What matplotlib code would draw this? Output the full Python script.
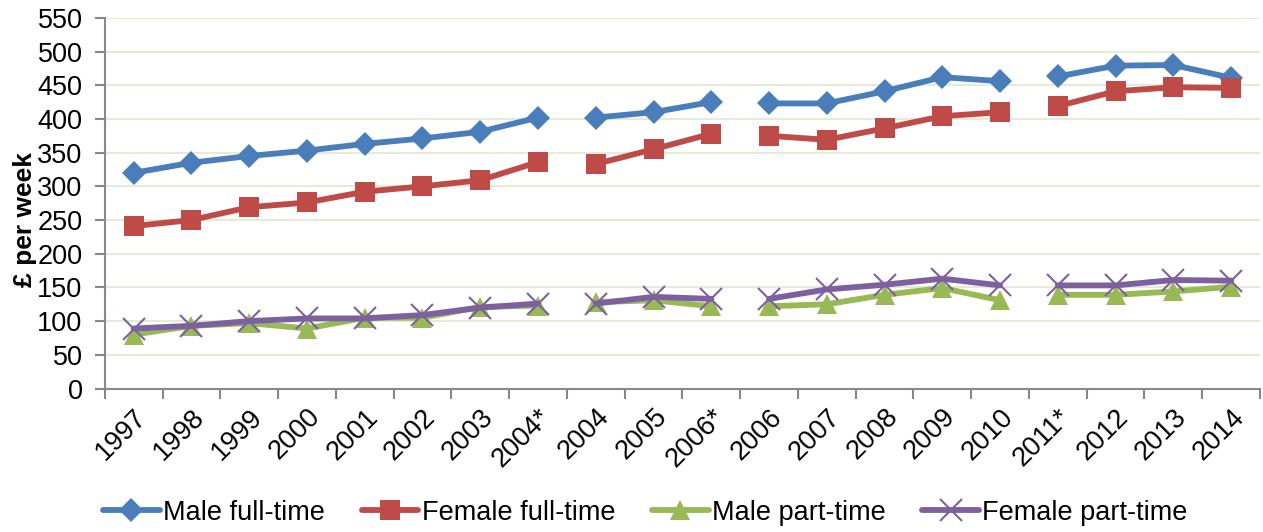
import matplotlib
matplotlib.use("Agg")
import matplotlib.pyplot as plt
import numpy as np

categories = ['1997', '1998', '1999', '2000', '2001', '2002', '2003', '2004*', '2004',
              '2005', '2006*', '2006', '2007', '2008', '2009', '2010', '2011*', '2012',
              '2013', '2014']
male_ft = [320, 335, 345, 353, 363, 371, 381, 402, 402, 410, 425, 423, 423, 441, 462,
           456, 463, 479, 480, 461]
female_ft = [241, 250, 269, 276, 292, 300, 309, 336, 333, 355, 378, 375, 369, 386, 404,
             410, 419, 441, 447, 446]
male_pt = [80, 93, 97, 89, 105, 105, 121, 123, 128, 131, 122, 122, 125, 139, 149, 131,
           139, 139, 144, 151]
female_pt = [89, 93, 100, 104, 104, 109, 120, 126, 126, 136, 133, 133, 147, 154, 163,
             153, 153, 153, 161, 160]
# series breaks (start, end) index ranges
segments = [(0, 8), (8, 11), (11, 16), (16, 20)]
series_names = ['Male full-time', 'Female full-time', 'Male part-time', 'Female part-time']

plt.rcParams['font.family'] = ['Liberation Sans', 'DejaVu Sans']

fig = plt.figure(figsize=(12.63, 5.32), dpi=100)
ax = fig.add_axes([0.083, 0.2697, 0.9146, 0.6968])

x = np.arange(len(categories))
styles = [
    dict(color='#4A7EBB', marker='D', markersize=12, mew=0),
    dict(color='#BE4B48', marker='s', markersize=14.5, mew=0),
    dict(color='#98B954', marker='^', markersize=15, mew=0),
    dict(color='#7D60A0', marker='x', markersize=16, mew=1.5),
]
data = [male_ft, female_ft, male_pt, female_pt]
handles = []
for vals, st, name in zip(data, styles, series_names):
    vals = np.array(vals, dtype=float)
    for i, (a, b) in enumerate(segments):
        ln, = ax.plot(x[a:b], vals[a:b], lw=4.2, solid_capstyle='round',
                      solid_joinstyle='round', label=name if i == 0 else None, **st)
        if i == 0:
            handles.append(ln)

ax.set_xlim(-0.5, len(categories) - 0.5)
ax.set_ylim(0, 550)
ax.set_yticks(np.arange(0, 551, 50))
ax.yaxis.grid(True, color='#E4EBD6', lw=1.5)
ax.set_axisbelow(True)

ax.set_xticks(np.arange(-0.5, len(categories), 1.0))
ax.set_xticklabels([])
ax.set_xticks(x, minor=True)
ax.set_xticklabels(categories, minor=True, rotation=45, ha='right', va='top',
                   rotation_mode='anchor', fontsize=19.5)
ax.tick_params(axis='x', which='minor', length=0, pad=11)
ax.tick_params(axis='x', which='major', length=7, width=1.5, color='#888888')
ax.tick_params(axis='y', length=7, width=1.5, color='#888888', labelsize=19.5, pad=9)

for s in ['top', 'right']:
    ax.spines[s].set_visible(False)
for s in ['left', 'bottom']:
    ax.spines[s].set_color('#888888')
    ax.spines[s].set_linewidth(1.5)

ax.set_ylabel('£ per week', fontsize=19, fontweight='bold')
ax.yaxis.set_label_coords(-0.059, 0.455)

fig.legend(handles=handles, loc='center', bbox_to_anchor=(0.511, 0.036), ncol=4,
           frameon=False, fontsize=19.5, handlelength=2.1, handletextpad=0.12,
           columnspacing=1.35)

fig.savefig('out.png', dpi=100)
